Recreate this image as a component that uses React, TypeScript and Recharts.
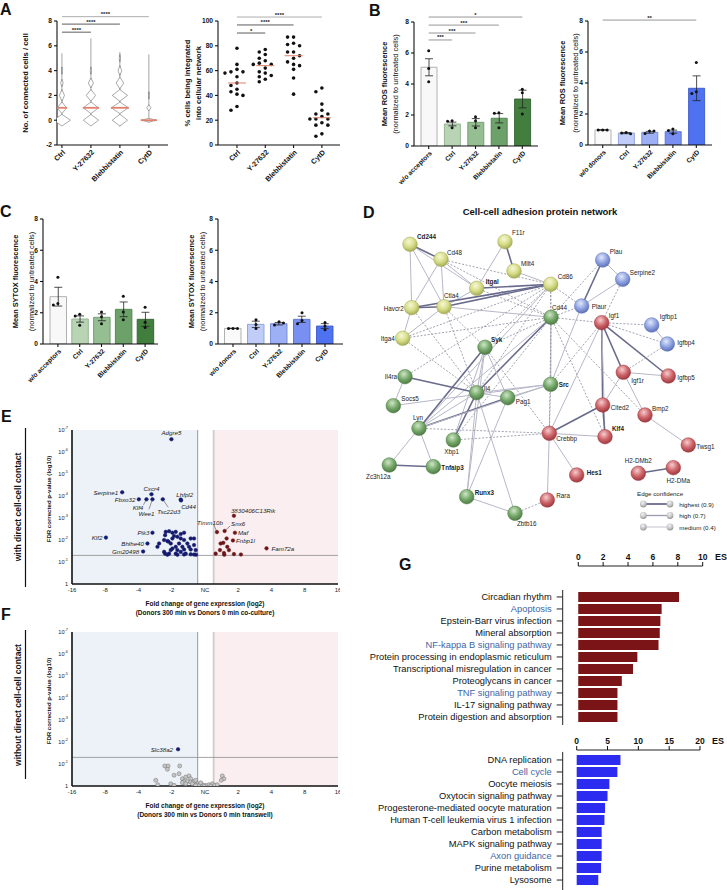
import React from "react";
import {
  ComposedChart,
  ScatterChart,
  Bar,
  Scatter,
  ErrorBar,
  Cell,
  XAxis,
  YAxis,
  ReferenceLine,
  ReferenceArea,
} from "recharts";

const FONT = "'Liberation Sans', Arial, Helvetica, sans-serif";
const AX = { stroke: "#111", strokeWidth: 1.1 };

// ---------- A: connected cells (violin) + integrated cells (dots) ----------
const A_CATS = ["Ctrl", "Y-27632", "Blebbistatin", "CytD"];
const A1_DENSITY = [
  [1.0, 0.55, 0.3, 0.15, 0.05],
  [0.9, 0.9, 0.55, 0.3, 0.08],
  [0.9, 1.0, 0.9, 0.45, 0.22, 0.08],
  [0.9, 0.25, 0.04],
];
const A1_HALF = [
  [0.47, 0.47, 0.47, 0.3, 0.3],
  [0.47, 0.47, 0.47, 0.4, 0.3],
  [0.47, 0.47, 0.47, 0.47, 0.4, 0.3],
  [0.15, 0.25, 0.3],
];
const A1_RANGE = [[-0.4, 5.4], [-0.4, 6.6], [-0.5, 5.5], [-0.2, 5.3]];
const A1_MEDIAN = [1, 1, 1, 0];
const A1_SIG = [
  { a: 1, b: 4, y: 8.35, s: "****" },
  { a: 1, b: 3, y: 7.75, s: "****" },
  { a: 1, b: 2, y: 7.1, s: "****" },
];

const A2_VALUES = [
  [78, 65, 61, 59, 59, 58, 55, 50, 48, 45, 43, 41, 40, 31, 28],
  [77, 75, 73, 70, 68, 66, 65, 65, 62, 59, 58, 56, 55, 53, 51],
  [87, 87, 82, 81, 80, 75, 75, 72, 70, 67, 65, 64, 61, 54, 41],
  [46, 43, 33, 28, 25, 25, 23, 21, 21, 21, 18, 16, 16, 9, 7],
];
const A2_MEDIAN = [50, 64, 72, 22];
const A2_SIG = [
  { a: 1, b: 4, y: 103.2, s: "****" },
  { a: 1, b: 3, y: 96.8, s: "****" },
  { a: 1, b: 2, y: 90.3, s: "*" },
];

// ---------- B / C: ROS and SYTOX ----------
const ACC_CATS = ["w/o acceptors", "Ctrl", "Y-27632", "Blebbistatin", "CytD"];
const DON_CATS = ["w/o donors", "Ctrl", "Y-27632", "Blebbistatin", "CytD"];

const B1_MEAN = [5.08, 1.42, 1.53, 1.79, 3.03];
const B1_SEM = [0.55, 0.12, 0.24, 0.3, 0.57];
const B1_PTS = [[6.15, 5.0, 4.15], [1.63, 1.6, 1.18], [1.89, 1.63, 1.18], [2.15, 2.12, 1.18], [3.66, 3.44, 2.06]];
const B1_SIG = [
  { a: "w/o acceptors", b: "CytD", y: 8.32, s: "*" },
  { a: "w/o acceptors", b: "Blebbistatin", y: 7.8, s: "***" },
  { a: "w/o acceptors", b: "Y-27632", y: 7.29, s: "***" },
  { a: "w/o acceptors", b: "Ctrl", y: 6.84, s: "***" },
];

const B2_MEAN = [0.97, 0.77, 0.82, 0.86, 3.66];
const B2_SEM = [0.01, 0.04, 0.06, 0.1, 0.8];
const B2_PTS = [[0.97, 0.97, 0.97], [0.8, 0.78, 0.72], [0.9, 0.74, 0.9], [1.04, 0.94, 0.72], [5.33, 3.44, 3.33]];
const B2_SIG = [{ a: "w/o donors", b: "CytD", y: 8.06, s: "**" }];

const C1_MEAN = [3.03, 1.6, 1.71, 2.22, 1.58];
const C1_SEM = [0.6, 0.2, 0.22, 0.47, 0.45];
const C1_PTS = [[4.27, 2.6, 2.5], [1.9, 1.8, 1.2], [2.05, 1.75, 1.3], [3.05, 2.05, 1.55], [2.35, 1.4, 1.05]];

const C2_MEAN = [1.0, 1.26, 1.3, 1.58, 1.15];
const C2_SEM = [0.01, 0.2, 0.08, 0.2, 0.15];
const C2_PTS = [[1.0, 1.0, 1.0], [1.55, 1.25, 1.0], [1.43, 1.22, 1.35], [2.0, 1.5, 1.3], [1.38, 1.15, 0.92]];

const GREEN_FILL = ["#f8f8f8", "#b8d4b5", "#96be93", "#6ca169", "#427f3f"];
const GREEN_EDGE = ["#a8a8a8", "#8daf89", "#6e9a6b", "#4f824c", "#2f5e2d"];
const BLUE_FILL = ["#fafafa", "#bfcdf8", "#9db0f5", "#7990f2", "#4f72f0"];
const BLUE_EDGE = ["#a8a8a8", "#8c9fd9", "#7188d6", "#5770cc", "#3a58c8"];

// ---------- E / F: volcano plots (x = log2 fold change, y = -log10 FDR) ----------
const E_BLUE = [
  { name: "Adgre5", x: -1.01, y: 6.58 },
  { name: "Serpine1", x: -2.49, y: 4.17 },
  { name: "Fbxo32", x: -1.99, y: 3.85 },
  { name: "Cxcr4", x: -1.61, y: 4.08 },
  { name: "Klf4", x: -1.76, y: 3.85 },
  { name: "Wee1", x: -1.58, y: 3.85 },
  { name: "Tsc22d3", x: -1.27, y: 3.85 },
  { name: "Lhfpl2", x: -0.73, y: 3.84 },
  { name: "Cd44", x: -0.72, y: 3.8 },
  { name: "Klf2", x: -2.98, y: 2.11 },
  { name: "Pik3", x: -1.58, y: 2.33 },
  { name: "Bhlhe40", x: -1.73, y: 1.84 },
  { name: "Gm20498", x: -1.86, y: 1.48 },
  { x: -1.18, y: 2.37 }, { x: -1.08, y: 2.4 }, { x: -0.98, y: 2.33 }, { x: -0.88, y: 2.37 },
  { x: -0.73, y: 2.27 }, { x: -0.63, y: 2.33 }, { x: -0.93, y: 2.18 }, { x: -0.83, y: 2.15 },
  { x: -0.73, y: 2.07 }, { x: -0.98, y: 2.07 }, { x: -1.23, y: 2.0 }, { x: -1.13, y: 1.95 },
  { x: -1.38, y: 1.84 }, { x: -1.03, y: 1.84 }, { x: -0.78, y: 1.84 }, { x: -0.63, y: 2.0 },
  { x: -0.43, y: 2.07 }, { x: -0.33, y: 2.07 }, { x: -0.53, y: 1.84 }, { x: -0.88, y: 1.69 },
  { x: -0.68, y: 1.69 }, { x: -0.48, y: 1.69 }, { x: -0.33, y: 1.77 }, { x: -1.03, y: 1.54 },
  { x: -0.83, y: 1.54 }, { x: -0.63, y: 1.57 }, { x: -0.43, y: 1.57 }, { x: -0.28, y: 1.54 },
  { x: -1.23, y: 1.46 }, { x: -1.08, y: 1.38 }, { x: -0.88, y: 1.38 }, { x: -0.73, y: 1.46 },
  { x: -0.58, y: 1.38 }, { x: -0.43, y: 1.35 }, { x: -0.27, y: 1.33 }, { x: -1.13, y: 1.33 },
  { x: -0.83, y: 1.33 }, { x: -0.63, y: 1.34 }, { x: -0.33, y: 1.34 }, { x: -1.43, y: 1.69 },
  { x: -1.2, y: 2.22 }, { x: -1.2, y: 1.38 }, { x: -1.1, y: 1.93 }, { x: -0.98, y: 1.61 },
];
const E_RED = [
  { name: "3830406C13Rik", x: 0.87, y: 3.1 },
  { name: "Timm10b", x: 0.36, y: 2.36 },
  { name: "Snx6", x: 0.59, y: 2.41 },
  { name: "Maf", x: 0.9, y: 2.33 },
  { name: "Fnbp1l", x: 0.84, y: 1.98 },
  { name: "Fam72a", x: 1.85, y: 1.62 },
  { x: 0.65, y: 2.07 }, { x: 0.47, y: 1.84 }, { x: 0.55, y: 1.87 }, { x: 0.67, y: 1.69 },
  { x: 0.45, y: 1.54 }, { x: 0.72, y: 1.54 }, { x: 0.32, y: 1.38 }, { x: 0.57, y: 1.41 },
  { x: 0.58, y: 1.33 }, { x: 0.87, y: 1.36 }, { x: 1.08, y: 1.34 },
];
const F_BLUE = [{ name: "Slc38a2", x: -0.81, y: 1.67 }];
const F_GRAY = [
  { x: -1.21, y: 0.91 }, { x: -1.11, y: 0.91 }, { x: -0.76, y: 0.91 }, { x: -1.13, y: 0.76 },
  { x: -0.93, y: 0.49 }, { x: -0.78, y: 0.56 }, { x: -1.48, y: 0.26 }, { x: -1.42, y: 0.06 },
  { x: -1.03, y: 0.1 }, { x: -0.93, y: 0.03 }, { x: -0.68, y: 0.33 }, { x: -0.58, y: 0.41 },
  { x: -0.48, y: 0.46 }, { x: -0.43, y: 0.33 }, { x: -0.63, y: 0.21 }, { x: -0.53, y: 0.21 },
  { x: -0.43, y: 0.18 }, { x: -0.33, y: 0.21 }, { x: -0.68, y: 0.15 }, { x: -0.58, y: 0.1 },
  { x: -0.38, y: 0.1 }, { x: -0.28, y: 0.26 }, { x: -0.23, y: 0.1 }, { x: -0.18, y: 0.03 },
  { x: -0.08, y: 0.06 }, { x: 0.02, y: 0.03 }, { x: 0.12, y: 0.06 }, { x: 0.22, y: 0.1 },
  { x: 0.29, y: 0.03 }, { x: 0.17, y: 0.0 }, { x: -0.03, y: 0.0 }, { x: 0.37, y: 0.06 },
  { x: 0.52, y: 0.46 }, { x: 0.57, y: 0.33 }, { x: 0.49, y: 0.26 }, { x: -0.13, y: 0.15 },
  { x: -0.28, y: 0.03 },
];
// label placement: [dx, dy, anchor, leaderDx?, leaderDy?] relative to the dot
const GENE_LABEL: Record<string, any[]> = {
  Adgre5: [0, -6.5, "middle"],
  Serpine1: [-4, 0, "end"],
  Fbxo32: [-3.5, 0.5, "end"],
  Cxcr4: [0, -5.5, "middle"],
  Klf4: [-8.5, 8.3, "middle", -3, 5.5],
  Wee1: [-6, 14, "middle", -3.5, 10],
  Tsc22d3: [6, 12.3, "middle", 5.5, 8],
  Lhfpl2: [4, -5, "middle"],
  Cd44: [7.5, 5.7, "middle"],
  Klf2: [-3.5, 0, "end"],
  Pik3: [-3, 0, "end"],
  Bhlhe40: [-3.5, 0, "end"],
  Gm20498: [-4, 0, "end"],
  "3830406C13Rik": [-3, -5.7, "start"],
  Timm10b: [-7, -9.6, "middle", -3, -7],
  Snx6: [13.5, -7.6, "middle", 5.5, -5],
  Maf: [3, 0, "start"],
  Fnbp1l: [3, 0, "start"],
  Fam72a: [5, 0, "start"],
  Slc38a2: [-5, 0, "end"],
};

// ---------- D: STRING network ----------
const NODES = [
  { name: "Cd244", x: 410, y: 244.3, g: "y" },
  { name: "Cd48", x: 441, y: 259.3, g: "y" },
  { name: "F11r", x: 505, y: 241.7, g: "y" },
  { name: "Mllt4", x: 514, y: 271, g: "y" },
  { name: "Itgal", x: 476.7, y: 288.3, g: "y" },
  { name: "Cd86", x: 550.7, y: 284.3, g: "y" },
  { name: "Havcr2", x: 411.7, y: 307.7, g: "y" },
  { name: "Ctla4", x: 444, y: 306.7, g: "y" },
  { name: "Itga4", x: 402.7, y: 338.3, g: "y" },
  { name: "Cd44", x: 551, y: 317.3, g: "g" },
  { name: "Syk", x: 485, y: 347.3, g: "g" },
  { name: "Il4ra", x: 405, y: 376.7, g: "g" },
  { name: "Il4", x: 476.7, y: 392.7, g: "g" },
  { name: "Pag1", x: 507.7, y: 397.7, g: "g" },
  { name: "Src", x: 550.7, y: 384.3, g: "g" },
  { name: "Socs5", x: 393.3, y: 405.7, g: "g" },
  { name: "Lyn", x: 419, y: 428.3, g: "g" },
  { name: "Xbp1", x: 453.3, y: 440, g: "g" },
  { name: "Zc3h12a", x: 389.3, y: 465, g: "g" },
  { name: "Tnfaip3", x: 433.3, y: 466.7, g: "g" },
  { name: "Runx3", x: 466.7, y: 496.7, g: "g" },
  { name: "Zbtb16", x: 515, y: 513.3, g: "g" },
  { name: "Plau", x: 602.7, y: 260, g: "b" },
  { name: "Serpine2", x: 622.7, y: 279.3, g: "b" },
  { name: "Plaur", x: 581.7, y: 306, g: "b" },
  { name: "Igfbp1", x: 651.7, y: 325, g: "b" },
  { name: "Igfbp4", x: 667.3, y: 344, g: "b" },
  { name: "Igf1", x: 601.7, y: 322.7, g: "r" },
  { name: "Igf1r", x: 623.3, y: 372.3, g: "r" },
  { name: "Igfbp5", x: 668.3, y: 376, g: "r" },
  { name: "Cited2", x: 602.7, y: 405, g: "r" },
  { name: "Bmp2", x: 645, y: 415, g: "r" },
  { name: "Crebbp", x: 549.3, y: 433.3, g: "r" },
  { name: "Klf4", x: 605, y: 436.7, g: "r" },
  { name: "Twsg1", x: 688.3, y: 445, g: "r" },
  { name: "Hes1", x: 576.7, y: 475, g: "r" },
  { name: "Rara", x: 547.3, y: 500, g: "r" },
  { name: "H2-DMb2", x: 638.3, y: 473.3, g: "r" },
  { name: "H2-DMa", x: 673.3, y: 467.7, g: "r" },
];
const EDGES: [string, string, string][] = [
  ["Cd244", "Cd48", "hi"], ["Cd244", "Havcr2", "mid"], ["Cd244", "Ctla4", "mid"], ["Cd244", "Itgal", "mid"],
  ["Cd48", "Havcr2", "mid"], ["Cd48", "Ctla4", "mid"], ["Cd48", "Itgal", "mid"], ["Cd48", "Cd86", "dash"], ["Cd48", "Cd44", "dash"],
  ["F11r", "Mllt4", "hi"], ["F11r", "Itgal", "mid"], ["Mllt4", "Cd86", "mid"], ["Itgal", "Cd86", "hi"], ["Itgal", "Ctla4", "mid"], ["Itgal", "Cd44", "dash"],
  ["Havcr2", "Ctla4", "hi"], ["Havcr2", "Cd86", "hi"], ["Ctla4", "Cd86", "hi"], ["Ctla4", "Cd44", "mid"], ["Havcr2", "Il4", "dash"], ["Havcr2", "Itga4", "mid"],
  ["Itga4", "Ctla4", "mid"], ["Itga4", "Cd86", "dash"], ["Itga4", "Cd44", "dash"], ["Itga4", "Il4", "dash"],
  ["Cd86", "Cd44", "dash"], ["Cd86", "Il4", "dash"], ["Cd86", "Syk", "dash"], ["Cd86", "Src", "dash"], ["Cd86", "Lyn", "mid"],
  ["Cd44", "Src", "mid"], ["Cd44", "Il4", "hi"], ["Cd44", "Lyn", "mid"], ["Cd44", "Syk", "dash"], ["Cd44", "Igf1", "dash"], ["Cd44", "Plaur", "dash"],
  ["Cd44", "Plau", "dash"], ["Cd44", "Crebbp", "dash"], ["Cd44", "Klf4", "dash"], ["Cd44", "Xbp1", "dash"], ["Cd44", "Bmp2", "dash"],
  ["Ctla4", "Il4", "dash"], ["Ctla4", "Syk", "dash"],
  ["Syk", "Lyn", "hi"], ["Syk", "Il4", "mid"], ["Syk", "Xbp1", "mid"], ["Syk", "Pag1", "mid"], ["Syk", "Crebbp", "dash"], ["Syk", "Runx3", "mid"],
  ["Il4ra", "Il4", "hi"], ["Il4ra", "Socs5", "mid"], ["Il4ra", "Cd86", "dash"],
  ["Il4", "Lyn", "mid"], ["Il4", "Src", "mid"], ["Il4", "Pag1", "mid"], ["Il4", "Runx3", "mid"], ["Il4", "Xbp1", "hi"], ["Il4", "Zbtb16", "mid"],
  ["Socs5", "Src", "mid"], ["Pag1", "Lyn", "hi"], ["Pag1", "Src", "mid"], ["Pag1", "Runx3", "mid"],
  ["Lyn", "Src", "mid"], ["Lyn", "Zc3h12a", "mid"], ["Lyn", "Tnfaip3", "mid"], ["Lyn", "Crebbp", "dash"], ["Xbp1", "Crebbp", "dash"],
  ["Zc3h12a", "Tnfaip3", "hi"], ["Runx3", "Zbtb16", "mid"], ["Zbtb16", "Rara", "dash"],
  ["Src", "Crebbp", "dash"], ["Src", "Plaur", "mid"], ["Src", "Igf1", "dash"],
  ["Plau", "Serpine2", "mid"], ["Plau", "Plaur", "hi"], ["Serpine2", "Plaur", "mid"], ["Plaur", "Cd86", "dash"], ["Serpine2", "Igf1", "dash"],
  ["Igf1", "Igfbp1", "dash"], ["Igf1", "Igfbp4", "dash"], ["Igf1", "Igfbp5", "hi"], ["Igf1", "Igf1r", "hi"], ["Igf1", "Cited2", "hi"],
  ["Igf1", "Crebbp", "mid"], ["Igf1", "Klf4", "mid"],
  ["Igfbp1", "Igfbp4", "mid"], ["Igf1r", "Igfbp5", "mid"], ["Igf1r", "Cited2", "mid"], ["Igf1r", "Bmp2", "mid"], ["Igf1r", "Igfbp4", "dash"],
  ["Cited2", "Crebbp", "hi"], ["Cited2", "Klf4", "hi"], ["Crebbp", "Klf4", "mid"], ["Crebbp", "Hes1", "mid"], ["Crebbp", "Rara", "mid"],
  ["Bmp2", "Twsg1", "mid"], ["H2-DMb2", "H2-DMa", "hi"],
];
const BOLD_NODES = ["Cd244", "Itgal", "Syk", "Src", "Tnfaip3", "Runx3", "Klf4", "Hes1"];
const NODE_LABEL: Record<string, any[]> = {
  Cd244: [7, -8, "start"], Cd48: [6, -6.5, "start"], F11r: [7, -9, "start"], Mllt4: [7, -8, "start"],
  Itgal: [9, -7, "start"], Cd86: [7, -8, "start"], Havcr2: [-8, 1, "end"], Ctla4: [0, -11, "start"],
  Itga4: [-8, 0, "end"], Cd44: [1, -9.5, "start"], Syk: [6, -7.5, "start"], Il4ra: [-8, 0, "end"],
  Il4: [7, -4.5, "start"], Pag1: [8, 4, "start"], Src: [8, 0.5, "start"], Socs5: [8, -7, "start"],
  Lyn: [-6, -10.5, "start"], Xbp1: [-9, 11.5, "start"], Zc3h12a: [-11, 11, "middle"], Tnfaip3: [8, 1, "start"],
  Runx3: [8, -4.5, "start"], Zbtb16: [2, 10.5, "start"], Plau: [7, -8.5, "start"], Serpine2: [7, -6.5, "start"],
  Plaur: [10, 0.5, "start"], Igfbp1: [8, -8.5, "start"], Igfbp4: [10, -2, "start"], Igf1: [7, -7.5, "start"],
  Igf1r: [8, 8, "start"], Igfbp5: [9, 1, "start"], Cited2: [8, 2, "start"], Bmp2: [7, -7, "start"],
  Crebbp: [7, 5.5, "start"], Klf4: [7, -8.5, "start"], Twsg1: [8, 1, "start"], Hes1: [10, -2.5, "start"],
  Rara: [9, -4.5, "start"], "H2-DMb2": [0, -12.5, "middle"], "H2-DMa": [5, 13, "middle"],
};
const NODE_STYLE: Record<string, any> = {
  y: { hi: "#f6f8d6", base: "#d6dc86", dark: "#a0a752" },
  g: { hi: "#cfe6c7", base: "#75a769", dark: "#4a7841" },
  b: { hi: "#e2e8fb", base: "#8ea2e0", dark: "#5a6fb6" },
  r: { hi: "#f6cdcf", base: "#cd6368", dark: "#9a363c" },
};
const EDGE_STYLE: Record<string, any> = {
  hi: { stroke: "#696b8c", strokeWidth: 1.6 },
  mid: { stroke: "#b7b7c8", strokeWidth: 1 },
  dash: { stroke: "#8c8c9e", strokeWidth: 0.8, strokeDasharray: "2 1.6" },
};
const LEGEND_ROWS = [
  { label: "highest (0.9)", kind: "hi" },
  { label: "high (0.7)", kind: "mid7" },
  { label: "medium (0.4)", kind: "mid" },
];

// ---------- G: KEGG enrichment ----------
const G_UP_TERMS = [
  "Circadian rhythm", "Apoptosis", "Epstein-Barr virus infection", "Mineral absorption",
  "NF-kappa B signaling pathway", "Protein processing in endoplasmic reticulum",
  "Transcriptional misregulation in cancer", "Proteoglycans in cancer", "TNF signaling pathway",
  "IL-17 signaling pathway", "Protein digestion and absorption",
];
const G_UP_ES = [8.1, 6.7, 6.6, 6.55, 6.45, 4.75, 4.4, 3.5, 3.15, 3.15, 3.15];
const G_DOWN_TERMS = [
  "DNA replication", "Cell cycle", "Oocyte meiosis", "Oxytocin signaling pathway",
  "Progesterone-mediated oocyte maturation", "Human T-cell leukemia virus 1 infection",
  "Carbon metabolism", "MAPK signaling pathway", "Axon guidance", "Purine metabolism", "Lysosome",
];
const G_DOWN_ES = [7.1, 6.6, 5.3, 5.0, 4.6, 4.5, 4.05, 4.05, 4.05, 3.95, 3.5];
const G_HIGHLIGHT = ["Apoptosis", "NF-kappa B signaling pathway", "TNF signaling pathway", "Cell cycle", "Axon guidance"];

// ---------- helpers ----------
function swarm(vals: number[], pxPerUnit: number, step: number, minDist: number): number[] {
  const placed: { o: number; y: number }[] = [];
  const cands = [0, -1, 1, -2, 2, -3, 3].map((k) => k * step);
  return vals.map((v) => {
    const y = v * pxPerUnit;
    const o = cands.find((c) => placed.every((p) => Math.hypot(p.o - c, p.y - y) >= minDist)) ?? 0;
    placed.push({ o, y });
    return o;
  });
}

const numTick = (p: any) => (
  <text x={p.x} y={p.y} dy="0.35em" textAnchor="end" fontSize={6.6} fontWeight="bold" fontFamily={FONT} fill="#111">
    {p.payload.value}
  </text>
);

const rotTick = (fmt: (v: any) => string, fs: number) => (p: any) => {
  const x = p.x + 2;
  const y = p.y + 1;
  return (
    <text x={x} y={y} dy="0.35em" transform={`rotate(-45 ${x} ${y})`} textAnchor="end" fontSize={fs} fontWeight="bold" fontFamily={FONT} fill="#111">
      {fmt(p.payload.value)}
    </text>
  );
};

const yLabel = (lines: { t: string; bold?: boolean }[], xs: number[], fs: number, shift = 0) => (props: any) => {
  const vb = props.viewBox;
  const cy = vb.y + vb.height / 2 + shift;
  return (
    <g>
      {lines.map((l, i) => (
        <text key={i} x={vb.x + xs[i]} y={cy} transform={`rotate(-90 ${vb.x + xs[i]} ${cy})`} textAnchor="middle" dominantBaseline="central"
          fontSize={fs} fontWeight={l.bold ? "bold" : "normal"} fontFamily={FONT} fill="#111">
          {l.t}
        </text>
      ))}
    </g>
  );
};

const sigLabel = (s: string) => ({ value: s, position: "top", offset: 0.5, fontSize: 6, fontWeight: "bold", fill: "#222", fontFamily: FONT });

// ---------- panel A ----------
function ViolinPanel() {
  const H = 200, mt = 21, ph = 124;
  const pxY = ph / 10;
  const diamond = (p: any) => {
    const w = p.payload.d * 8.5;
    const h = p.payload.h * pxY;
    return <path d={`M${p.cx - w},${p.cy} L${p.cx},${p.cy - h} L${p.cx + w},${p.cy} L${p.cx},${p.cy + h} Z`} fill="#fff" stroke="#555" strokeWidth={0.5} />;
  };
  const median = (p: any) => {
    const w = p.payload.d * 8.5 + 0.5;
    return <line x1={p.cx - w} x2={p.cx + w} y1={p.cy} y2={p.cy} stroke="#e2806d" strokeWidth={1.8} />;
  };
  return (
    <div style={{ position: "absolute", left: 0, top: 0 }}>
      <ScatterChart width={175} height={H} margin={{ top: mt, right: 7, left: 0, bottom: 0 }}>
        <XAxis type="number" dataKey="x" domain={[0.83, 4.66]} ticks={[1, 2, 3, 4]} interval={0} allowDataOverflow height={H - mt - ph}
          tick={rotTick((v) => A_CATS[v - 1], 7.2)} tickSize={3} axisLine={AX} tickLine={AX} />
        <YAxis type="number" dataKey="y" domain={[-2, 8]} ticks={[-2, 0, 2, 4, 6, 8]} interval={0} allowDataOverflow width={57}
          tick={numTick} tickSize={3} axisLine={AX} tickLine={AX}
          label={yLabel([{ t: "No. of connected cells / cell", bold: true }], [25], 7.6)} />
        {A1_RANGE.map((r, i) => (
          <Scatter key={`r${i}`} data={[{ x: i + 1, y: r[0] }, { x: i + 1, y: r[1] }]} line={{ stroke: "#666", strokeWidth: 0.6 }}
            shape={() => <g />} isAnimationActive={false} />
        ))}
        {A1_DENSITY.map((dens, i) => (
          <Scatter key={`v${i}`} data={dens.map((d, k) => ({ x: i + 1, y: k, d, h: A1_HALF[i][k] }))} shape={diamond} isAnimationActive={false} />
        ))}
        <Scatter data={A1_MEDIAN.map((m, i) => ({ x: i + 1, y: m, d: A1_DENSITY[i][m] }))} shape={median} isAnimationActive={false} />
        {A1_SIG.map((s, i) => (
          <ReferenceLine key={i} segment={[{ x: s.a, y: s.y }, { x: s.b, y: s.y }]} ifOverflow="visible"
            stroke={i === 0 ? "#999" : "#333"} strokeWidth={0.8} label={sigLabel(s.s) as any} />
        ))}
      </ScatterChart>
    </div>
  );
}

function DotPanel() {
  const H = 200, mt = 21, ph = 124;
  const pxY = ph / 100;
  const dot = (p: any) => <circle cx={p.cx + p.payload.o} cy={p.cy} r={1.8} fill="#111" />;
  const median = (p: any) => <line x1={p.cx - 9} x2={p.cx + 9} y1={p.cy} y2={p.cy} stroke="#e2806d" strokeWidth={1} />;
  return (
    <div style={{ position: "absolute", left: 180, top: 0 }}>
      <ScatterChart width={165} height={H} margin={{ top: mt, right: 5, left: 0, bottom: 0 }}>
        <XAxis type="number" dataKey="x" domain={[0.33, 4.64]} ticks={[1, 2, 3, 4]} interval={0} allowDataOverflow height={H - mt - ph}
          tick={rotTick((v) => A_CATS[v - 1], 7.2)} tickSize={3} axisLine={AX} tickLine={AX} />
        <YAxis type="number" dataKey="y" domain={[0, 100]} ticks={[0, 20, 40, 60, 80, 100]} interval={0} allowDataOverflow width={38}
          tick={numTick} tickSize={3} axisLine={AX} tickLine={AX}
          label={yLabel([{ t: "% cells being integrated", bold: true }, { t: "into cellular network", bold: true }], [7, 18], 7.6)} />
        {A2_VALUES.map((vals, i) => {
          const offs = swarm(vals, pxY, 6, 4.6);
          return <Scatter key={i} data={vals.map((v, k) => ({ x: i + 1, y: v, o: offs[k] }))} shape={dot} isAnimationActive={false} />;
        })}
        <Scatter data={A2_MEDIAN.map((m, i) => ({ x: i + 1, y: m }))} shape={median} isAnimationActive={false} />
        {A2_SIG.map((s, i) => (
          <ReferenceLine key={i} segment={[{ x: s.a, y: s.y }, { x: s.b, y: s.y }]} ifOverflow="visible"
            stroke={i === 0 ? "#999" : "#333"} strokeWidth={0.8} label={sigLabel(s.s) as any} />
        ))}
      </ScatterChart>
    </div>
  );
}

// ---------- panels B / C ----------
function BarPanel(props: any) {
  const { cfg, cats, means, sems, pts, fills, strokes, sig, yLines } = props;
  const pxY = cfg.ph / 8;
  const data = cats.map((c: string, i: number) => {
    const offs = swarm(pts[i], pxY, 4.5, 3.4);
    return { name: c, mean: means[i], sem: sems[i], p0: pts[i][0], p1: pts[i][1], p2: pts[i][2], o0: offs[0], o1: offs[1], o2: offs[2] };
  });
  return (
    <div style={{ position: "absolute", left: cfg.left, top: cfg.top }}>
      <ComposedChart width={cfg.w} height={cfg.h} data={data} margin={{ top: cfg.mt, right: cfg.mr, left: 0, bottom: 0 }}>
        <XAxis dataKey="name" type="category" interval={0} padding={{ left: cfg.pl, right: cfg.pr }} height={cfg.h - cfg.mt - cfg.ph}
          tick={rotTick((v) => v, 6.6)} tickSize={3} axisLine={AX} tickLine={AX} />
        <YAxis type="number" domain={[0, 8]} ticks={[0, 2, 4, 6, 8]} interval={0} allowDataOverflow width={cfg.yw} tick={numTick} tickSize={3}
          axisLine={AX} tickLine={AX} label={yLabel(yLines, cfg.lx, 7.4)} />
        <Bar dataKey="mean" barSize={cfg.bs} isAnimationActive={false} strokeWidth={0.9}>
          {data.map((_: any, i: number) => (
            <Cell key={i} fill={fills[i]} stroke={strokes[i]} />
          ))}
          <ErrorBar dataKey="sem" width={4} stroke="#222" strokeWidth={0.8} direction="y" />
        </Bar>
        {[0, 1, 2].map((k) => (
          <Scatter key={k} dataKey={`p${k}`} isAnimationActive={false}
            shape={(p: any) => <circle cx={p.cx + p.payload[`o${k}`]} cy={p.cy} r={1.5} fill="#111" />} />
        ))}
        {sig.map((s: any, i: number) => (
          <ReferenceLine key={i} segment={[{ x: s.a, y: s.y }, { x: s.b, y: s.y }]} ifOverflow="visible"
            stroke="#8a8a8a" strokeWidth={0.9} label={sigLabel(s.s) as any} />
        ))}
      </ComposedChart>
    </div>
  );
}

const ROS = [{ t: "Mean ROS fluorescence", bold: true }, { t: "(normalized to untreated cells)" }];
const SYTOX = [{ t: "Mean SYTOX fluorescence", bold: true }, { t: "(normalized to untreated cells)" }];

// ---------- panels E / F ----------
const fcLabel = (v: number) => (v === 0 ? "NC" : `${v < 0 ? "-" : ""}${Math.pow(2, Math.abs(v))}`);

const PowTick = (p: any) => {
  const v = p.payload.value;
  return (
    <text x={p.x} y={p.y} dy="0.35em" textAnchor="end" fontSize={5.6} fontFamily={FONT} fill="#222">
      {v === 0 ? "1" : (
        <>
          <tspan>10</tspan>
          <tspan dy={-2.6} fontSize={3.9}>{`-${v}`}</tspan>
        </>
      )}
    </text>
  );
};

const geneDot = (fill: string, stroke: string, r: number) => (p: any) => {
  const name = p.payload.name;
  const lab = name ? GENE_LABEL[name] : null;
  return (
    <g>
      {lab && lab.length > 3 && (
        <line x1={p.cx} y1={p.cy} x2={p.cx + lab[3]} y2={p.cy + lab[4]} stroke="#333" strokeWidth={0.5} />
      )}
      <circle cx={p.cx} cy={p.cy} r={r} fill={fill} stroke={stroke} strokeWidth={0.5} />
      {lab && (
        <text x={p.cx + lab[0]} y={p.cy + lab[1]} textAnchor={lab[2]} dominantBaseline="central" fontSize={6.2} fontStyle="italic" fontFamily={FONT} fill="#222">
          {name}
        </text>
      )}
    </g>
  );
};

const xLab2 = (l1: string, l2: string) => (props: any) => {
  const vb = props.viewBox;
  const cx = vb.x + vb.width / 2;
  return (
    <g fontFamily={FONT} fontWeight="bold" fontSize={6.5} fill="#111">
      <text x={cx} y={vb.y + 19} textAnchor="middle" dominantBaseline="central">{l1}</text>
      <text x={cx} y={vb.y + 28} textAnchor="middle" dominantBaseline="central">{l2}</text>
    </g>
  );
};

function Volcano({ top, blue, red, gray, line2 }: any) {
  const H = 222, mt = 30, ph = 154;
  const axisStyle = { stroke: "#111", strokeWidth: 1.6 };
  return (
    <div style={{ position: "absolute", left: 40, top }}>
      <ScatterChart width={300} height={H} margin={{ top: mt, right: 2, left: 0, bottom: 0 }}>
        <XAxis type="number" dataKey="x" domain={[-4, 4]} ticks={[-4, -3, -2, -1, 0, 1, 2, 3, 4]} interval={0} allowDataOverflow height={H - mt - ph}
          tickFormatter={fcLabel} tick={{ fontSize: 6, fill: "#222", fontFamily: FONT }} tickSize={3} tickMargin={1}
          axisLine={axisStyle} tickLine={false}
          label={xLab2("Fold change of gene expression (log2)", line2)} />
        <YAxis type="number" dataKey="y" domain={[0, 7]} ticks={[0, 1, 2, 3, 4, 5, 6, 7]} interval={0} allowDataOverflow width={32}
          tick={PowTick} tickSize={2} tickMargin={2} axisLine={axisStyle} tickLine={false}
          label={yLabel([{ t: "FDR corrected p-value (log10)", bold: true }], [8.5], 6.1, -8)} />
        <ReferenceArea x1={-4} x2={-0.22} y1={0} y2={7} fill="#edf2f8" fillOpacity={1} stroke="none" />
        <ReferenceArea x1={0.26} x2={4} y1={0} y2={7} fill="#faeef0" fillOpacity={1} stroke="none" />
        <ReferenceLine x={-0.22} stroke="#8d8d8d" strokeWidth={0.9} />
        <ReferenceLine x={0.26} stroke="#cdcdcd" strokeWidth={1.8} />
        <ReferenceLine y={1.3} stroke="#8d8d8d" strokeWidth={0.8} />
        {gray && <Scatter data={gray} shape={geneDot("#c6c6c6", "#6f6f6f", 2)} isAnimationActive={false} />}
        {red && <Scatter data={red} shape={geneDot("#6e1518", "#6e1518", 1.8)} isAnimationActive={false} />}
        <Scatter data={blue} shape={geneDot("#141b6e", "#141b6e", 1.8)} isAnimationActive={false} />
      </ScatterChart>
    </div>
  );
}

// ---------- panel D ----------
function Network() {
  const pos: Record<string, any> = {};
  NODES.forEach((n) => (pos[n.name] = n));
  const nodeShape = (p: any) => {
    const n = p.payload;
    const s = NODE_STYLE[n.g];
    const lab = NODE_LABEL[n.name] || [8, 0, "start"];
    return (
      <g>
        <circle cx={p.cx} cy={p.cy} r={7.3} fill={`url(#node-${n.g})`} stroke={s.dark} strokeWidth={0.5} />
        <text x={p.cx + lab[0]} y={p.cy + lab[1]} textAnchor={lab[2]} dominantBaseline="central" fontSize={6.3}
          fontWeight={BOLD_NODES.includes(n.name) ? "bold" : "normal"} fontFamily={FONT} fill="#222">
          {n.name}
        </text>
      </g>
    );
  };
  return (
    <div style={{ position: "absolute", left: 355, top: 200 }}>
      <ScatterChart width={372} height={340} margin={{ top: 0, right: 0, left: 0, bottom: 0 }}>
        <defs>
          {Object.keys(NODE_STYLE).map((k) => (
            <radialGradient key={k} id={`node-${k}`} cx="42%" cy="32%" r="70%">
              <stop offset="0%" stopColor={NODE_STYLE[k].hi} />
              <stop offset="55%" stopColor={NODE_STYLE[k].base} />
              <stop offset="100%" stopColor={NODE_STYLE[k].dark} />
            </radialGradient>
          ))}
        </defs>
        <XAxis type="number" dataKey="x" domain={[355, 727]} hide allowDataOverflow />
        <YAxis type="number" dataKey="y" domain={[200, 540]} reversed hide allowDataOverflow />
        {EDGES.map(([a, b, k], i) => (
          <ReferenceLine key={i} segment={[{ x: pos[a].x, y: pos[a].y }, { x: pos[b].x, y: pos[b].y }]} {...EDGE_STYLE[k]} />
        ))}
        <Scatter data={NODES} shape={nodeShape} isAnimationActive={false} />
      </ScatterChart>
    </div>
  );
}

// ---------- panel G ----------
const termTick = (terms: string[]) => (p: any) => {
  const t = terms[p.payload.value];
  return (
    <text x={p.x} y={p.y} dy="0.35em" textAnchor="end" fontSize={9.3} fontFamily={FONT} fill={G_HIGHLIGHT.includes(t) ? "#3d66a6" : "#111"}>
      {t}
    </text>
  );
};

function Enrich({ top, height, terms, es, xMin, xMax, xTicks, yMin, yMax, yLineTop, color, mr }: any) {
  const data = terms.map((t: string, i: number) => ({ i, es: es[i] }));
  return (
    <div style={{ position: "absolute", left: 345, top }}>
      <ComposedChart layout="vertical" width={382} height={height} data={data} margin={{ top: 6, right: mr, left: 0, bottom: 0 }}>
        <XAxis type="number" orientation="top" domain={[xMin, xMax]} ticks={xTicks} interval={0} allowDataOverflow height={20}
          axisLine={false} tickLine={{ stroke: "#111" }} tickSize={4} tickMargin={2}
          tick={{ fontSize: 8.5, fontWeight: "bold", fill: "#111", fontFamily: FONT }} />
        <YAxis type="number" dataKey="i" domain={[yMin, yMax]} allowDataOverflow ticks={terms.map((_: any, i: number) => i)} interval={0}
          width={217.7} tick={termTick(terms)} tickSize={6} tickMargin={5} axisLine={false} tickLine={{ stroke: "#222" }} />
        <ReferenceLine segment={[{ x: 0, y: yMin }, { x: xMax, y: yMin }]} stroke="#222" strokeWidth={1} ifOverflow="visible" />
        <ReferenceLine segment={[{ x: xMin, y: yLineTop }, { x: xMin, y: yMax }]} stroke="#222" strokeWidth={1} ifOverflow="visible" />
        <Bar dataKey="es" barSize={10} fill={color} isAnimationActive={false} />
      </ComposedChart>
    </div>
  );
}

// ---------- free text: panel letters, titles, side labels, legend ----------
function Overlay() {
  const letter = (t: string, x: number, y: number) => (
    <text x={x} y={y} fontSize={16} fontWeight="bold" fontFamily={FONT} fill="#111">{t}</text>
  );
  const legendY = [504, 515.5, 527];
  const legendStyle: Record<string, any> = {
    hi: { stroke: "#696b8c", strokeWidth: 1.8 },
    mid7: { stroke: "#9b9bb2", strokeWidth: 1.3 },
    mid: { stroke: "#c2c2cf", strokeWidth: 1 },
  };
  return (
    <svg width={727} height={890} style={{ position: "absolute", left: 0, top: 0, pointerEvents: "none" }} fontFamily={FONT}>
      <defs>
        <radialGradient id="legend-node" cx="42%" cy="32%" r="70%">
          <stop offset="0%" stopColor="#f2f2f2" />
          <stop offset="60%" stopColor="#c4c4c4" />
          <stop offset="100%" stopColor="#8e8e8e" />
        </radialGradient>
      </defs>
      {letter("A", 0, 15)}
      {letter("B", 369, 16)}
      {letter("C", 0, 217)}
      {letter("D", 363, 218)}
      {letter("E", 1, 422)}
      {letter("F", 1, 620)}
      {letter("G", 399, 570)}
      <text x={540} y={215} textAnchor="middle" fontSize={9.5} fontWeight="bold" fill="#111">Cell-cell adhesion protein network</text>
      <text x={715} y={560} fontSize={9} fontWeight="bold" fill="#111">ES</text>
      <text x={712} y={744} fontSize={9} fontWeight="bold" fill="#111">ES</text>
      <line x1={25.5} y1={428} x2={25.5} y2={587} stroke="#111" strokeWidth={1.2} />
      <text x={18} y={507} transform="rotate(-90 18 507)" textAnchor="middle" dominantBaseline="central" fontSize={8.5} fontWeight="bold" fill="#111">
        with direct cell-cell contact
      </text>
      <line x1={25.5} y1={630} x2={25.5} y2={779} stroke="#111" strokeWidth={1.2} />
      <text x={18} y={705} transform="rotate(-90 18 705)" textAnchor="middle" dominantBaseline="central" fontSize={8.5} fontWeight="bold" fill="#111">
        without direct cell-cell contact
      </text>
      <text x={637} y={493} dominantBaseline="central" fontSize={6.2} fill="#222">Edge confidence</text>
      {LEGEND_ROWS.map((r, i) => (
        <g key={r.label}>
          <line x1={643.3} x2={670} y1={legendY[i]} y2={legendY[i]} {...legendStyle[r.kind]} />
          <circle cx={643.3} cy={legendY[i]} r={3.4} fill="url(#legend-node)" />
          <circle cx={670} cy={legendY[i]} r={3.4} fill="url(#legend-node)" />
          <text x={679.3} y={legendY[i]} dominantBaseline="central" fontSize={6.2} fill="#222">{r.label}</text>
        </g>
      ))}
    </svg>
  );
}

export default function App() {
  return (
    <div style={{ position: "absolute", left: 0, top: 0, width: 727, height: 890, background: "#fff", fontFamily: FONT }}>
      <ViolinPanel />
      <DotPanel />
      <BarPanel cfg={{ left: 375, top: 0, w: 165, h: 200, mt: 22, mr: 2, yw: 39, ph: 124, pl: 3, pr: 4, bs: 16, lx: [9, 20] }}
        cats={ACC_CATS} means={B1_MEAN} sems={B1_SEM} pts={B1_PTS} fills={GREEN_FILL} strokes={GREEN_EDGE} sig={B1_SIG} yLines={ROS} />
      <BarPanel cfg={{ left: 550, top: 0, w: 165, h: 200, mt: 21, mr: 3, yw: 38, ph: 124, pl: 3, pr: 4, bs: 16, lx: [12, 25] }}
        cats={DON_CATS} means={B2_MEAN} sems={B2_SEM} pts={B2_PTS} fills={BLUE_FILL} strokes={BLUE_EDGE} sig={B2_SIG} yLines={ROS} />
      <BarPanel cfg={{ left: 0, top: 200, w: 160, h: 200, mt: 19, mr: 2, yw: 43, ph: 125, pl: 4, pr: 2, bs: 16.5, lx: [15, 31] }}
        cats={ACC_CATS} means={C1_MEAN} sems={C1_SEM} pts={C1_PTS} fills={GREEN_FILL} strokes={GREEN_EDGE} sig={[]} yLines={SYTOX} />
      <BarPanel cfg={{ left: 175, top: 200, w: 170, h: 200, mt: 19, mr: 2, yw: 43, ph: 125, pl: 3.5, pr: 6.5, bs: 16.5, lx: [16, 27] }}
        cats={DON_CATS} means={C2_MEAN} sems={C2_SEM} pts={C2_PTS} fills={BLUE_FILL} strokes={BLUE_EDGE} sig={[]} yLines={SYTOX} />
      <Network />
      <Volcano top={400} blue={E_BLUE} red={E_RED} line2="(Donors 300 min vs Donors 0 min co-culture)" />
      <Volcano top={602} blue={F_BLUE} gray={F_GRAY} line2="(Donors 300 min vs Donors 0 min transwell)" />
      <Enrich top={540} height={185} terms={G_UP_TERMS} es={G_UP_ES} xMin={-1.25} xMax={10} xTicks={[0, 2, 4, 6, 8, 10]}
        yMin={-2.58} yMax={10.67} yLineTop={-0.58} color="#7b1416" mr={24.3} />
      <Enrich top={724} height={166} terms={G_DOWN_TERMS} es={G_DOWN_ES} xMin={-2.27} xMax={20} xTicks={[0, 5, 10, 15, 20]}
        yMin={-0.83} yMax={10.83} yLineTop={-0.67} color="#2b2cf0" mr={27} />
      <Overlay />
    </div>
  );
}
